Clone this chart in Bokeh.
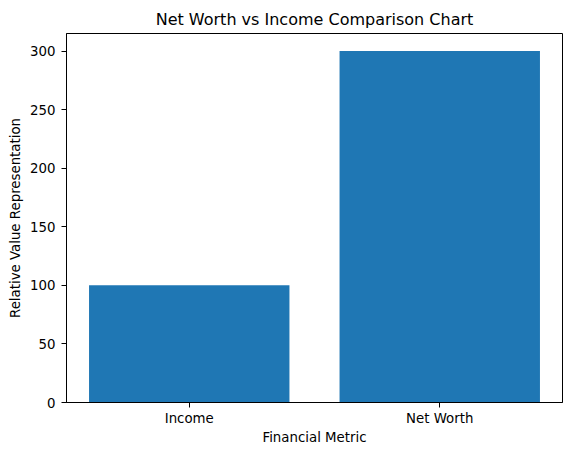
from bokeh.plotting import figure
from bokeh.models import FixedTicker, Range1d, ColumnDataSource
from bokeh.embed import file_html
from bokeh.resources import INLINE

categories = ["Income", "Net Worth"]
values = [100, 300]
y_ticks = [0, 50, 100, 150, 200, 250, 300]

positions = list(range(len(categories)))
source = ColumnDataSource(data=dict(x=positions, top=values))

FONT = "DejaVu Sans"

p = figure(frame_width=496, frame_height=369, output_backend="svg", toolbar_location=None,
           x_range=Range1d(-0.49, len(categories) - 1 + 0.49),
           y_range=Range1d(0, max(values) * 1.05),
           min_border_left=66, min_border_right=9, min_border_top=33, min_border_bottom=53,
           title="Net Worth vs Income Comparison Chart")

p.vbar(x="x", top="top", width=0.8, source=source, fill_color="#1f77b4", line_color=None)

p.title.align = "center"
p.title.text_font = FONT
p.title.text_font_size = "16px"
p.title.text_font_style = "normal"
p.title.text_color = "black"
p.title.standoff = 9

p.xgrid.visible = False
p.ygrid.visible = False
p.outline_line_color = "black"
p.outline_line_width = 1
p.outline_line_alpha = 1

p.xaxis.ticker = FixedTicker(ticks=positions)
p.xaxis.major_label_overrides = {i: c for i, c in zip(positions, categories)}
p.yaxis.ticker = FixedTicker(ticks=y_ticks)
p.xaxis.axis_label = "Financial Metric"
p.yaxis.axis_label = "Relative Value Representation"

for ax in (p.xaxis, p.yaxis):
    ax.minor_tick_line_color = None
    ax.major_tick_out = 5
    ax.major_tick_in = 0
    ax.major_tick_line_color = "black"
    ax.axis_line_color = "black"
    ax.major_label_text_font = FONT
    ax.major_label_text_font_size = "13.33px"
    ax.major_label_text_color = "black"
    ax.axis_label_text_font = FONT
    ax.axis_label_text_font_size = "13.33px"
    ax.axis_label_text_font_style = "normal"
    ax.axis_label_text_color = "black"

p.xaxis.major_label_standoff = 3
p.xaxis.axis_label_standoff = 1
p.yaxis.major_label_standoff = 6
p.yaxis.axis_label_standoff = 4

open("out.html", "w").write(file_html(p, INLINE))
